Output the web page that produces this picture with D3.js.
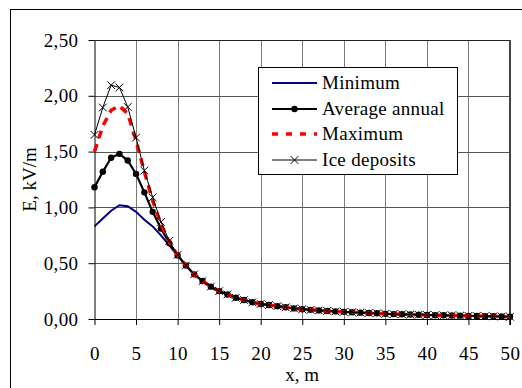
<!DOCTYPE html>
<html>
<head>
<meta charset="utf-8">
<script src="https://cdn.jsdelivr.net/npm/d3@7"></script>
<style>
  body { margin: 0; background: #fff; }
  svg { display: block; font-family: "Liberation Serif", "Times New Roman", serif; }
</style>
</head>
<body>
<svg id="chart" width="522" height="388"></svg>
<script>
// Data
const xValues = d3.range(0, 51);
const tail = [0.48, 0.40, 0.34, 0.29, 0.25, 0.22, 0.19, 0.17, 0.15, 0.135,
  0.125, 0.115, 0.105, 0.095, 0.088, 0.082, 0.077, 0.072, 0.068, 0.064,
  0.060, 0.057, 0.054, 0.051, 0.046, 0.044, 0.042, 0.040, 0.038, 0.036,
  0.034, 0.033, 0.031, 0.030, 0.028, 0.027, 0.025, 0.024, 0.022, 0.020];
const minimumHead = [0.83, 0.90, 0.97, 1.02, 1.01, 0.96, 0.89, 0.83, 0.75, 0.66, 0.57];
const averageHead = [1.18, 1.32, 1.445, 1.48, 1.42, 1.30, 1.135, 0.96, 0.81, 0.68, 0.57];
const maximumHead = [1.50, 1.73, 1.87, 1.91, 1.84, 1.60, 1.32, 1.06, 0.85, 0.69, 0.57];
const iceHead = [1.65, 1.895, 2.095, 2.075, 1.90, 1.625, 1.33, 1.09, 0.87, 0.70, 0.575];
const minimum = minimumHead.concat(tail);
const average = averageHead.concat(tail);
const maximum = maximumHead.concat(tail);
const ice = iceHead.concat(tail);
const seriesNames = ['Minimum', 'Average annual', 'Maximum', 'Ice deposits'];
const xTicks = d3.range(0, 51, 5);
const yTicks = [0, 0.5, 1, 1.5, 2, 2.5];

const svg = d3.select('#chart');
const margins = { left: 94.5, top: 40 };
const fontSize = '19px';

const x = d3.scaleLinear().domain([0, 50]).range([margins.left, 510]);
const y = d3.scaleLinear().domain([0, 2.5]).range([319, margins.top]);
const fmt = d => d3.format('.2f')(d).replace('.', ',');

// Outer frame (right and bottom sides fall outside the picture)
svg.append('rect')
  .attr('x', 10.5).attr('y', 9.5)
  .attr('width', 540).attr('height', 400)
  .attr('fill', 'none').attr('stroke', '#000').attr('stroke-width', 1);

// Grid
const grid = svg.append('g').attr('class', 'grid');
grid.selectAll('line.v')
  .data(xTicks.filter(d => d > 0 && d < 50))
  .join('line')
  .attr('x1', d => Math.round(x(d)) + 0.5).attr('x2', d => Math.round(x(d)) + 0.5)
  .attr('y1', y(0)).attr('y2', y(2.5))
  .attr('stroke', '#7a7a7a');
grid.selectAll('line.h')
  .data(yTicks.filter(d => d > 0 && d < 2.5))
  .join('line')
  .attr('y1', d => Math.round(y(d)) + 0.5).attr('y2', d => Math.round(y(d)) + 0.5)
  .attr('x1', x(0)).attr('x2', x(50))
  .attr('stroke', '#555');

// Plot border top & right
svg.append('line')
  .attr('x1', x(0)).attr('x2', x(50))
  .attr('y1', Math.round(y(2.5)) + 0.5).attr('y2', Math.round(y(2.5)) + 0.5)
  .attr('stroke', '#222');
svg.append('line')
  .attr('x1', x(50)).attr('x2', x(50))
  .attr('y1', y(2.5)).attr('y2', y(0) + 6)
  .attr('stroke', '#444').attr('stroke-width', 2);

// Axes
const yAxis = d3.axisLeft(y).tickValues(yTicks).tickFormat(fmt).tickSizeInner(6).tickSizeOuter(0).tickPadding(10);
const yAxisG = svg.append('g').attr('transform', `translate(${x(0)},0)`).call(yAxis);
const xAxis = d3.axisBottom(x).tickValues(xTicks).tickSizeInner(6).tickSizeOuter(0).tickPadding(22);
const xAxisG = svg.append('g').attr('transform', `translate(0,${y(0)})`).call(xAxis);
[yAxisG, xAxisG].forEach(g => {
  g.select('.domain').attr('stroke', '#000');
  g.selectAll('.tick line').attr('stroke', '#000');
  g.selectAll('.tick text')
    .attr('fill', '#000')
    .style('font-size', fontSize)
    .style('letter-spacing', '0.4px')
    .style('font-family', '"Liberation Serif", "Times New Roman", serif');
});

// Axis titles
svg.append('text')
  .attr('x', (x(0) + x(50)) / 2).attr('y', 381)
  .attr('text-anchor', 'middle').style('font-size', fontSize)
  .text('x, m');
svg.append('text')
  .attr('transform', `translate(36,${(y(0) + y(2.5)) / 2}) rotate(-90)`)
  .attr('text-anchor', 'middle').style('font-size', fontSize)
  .text('E, kV/m');

// Series
const line = d3.line().x((d, i) => x(xValues[i])).y(d => y(d));
const plot = svg.append('g').attr('class', 'data');

plot.append('path').datum(minimum)
  .attr('d', line).attr('fill', 'none')
  .attr('stroke', '#000080').attr('stroke-width', 2);

plot.append('path').datum(average)
  .attr('d', line).attr('fill', 'none')
  .attr('stroke', '#000').attr('stroke-width', 2.2);
plot.selectAll('circle.avg').data(average).join('circle')
  .attr('class', 'avg')
  .attr('cx', (d, i) => x(xValues[i])).attr('cy', d => y(d))
  .attr('r', 3.2).attr('fill', '#000');

plot.append('path').datum(maximum)
  .attr('d', line).attr('fill', 'none')
  .attr('stroke', '#ff0000').attr('stroke-width', 3.5)
  .attr('stroke-dasharray', '8,6');

plot.append('path').datum(ice)
  .attr('d', line).attr('fill', 'none')
  .attr('stroke', '#000').attr('stroke-width', 1);
const cross = d3.symbol().type(d3.symbolTimes).size(40);
plot.selectAll('path.ice').data(ice).join('path')
  .attr('class', 'ice')
  .attr('d', cross)
  .attr('transform', (d, i) => `translate(${x(xValues[i])},${y(d)})`)
  .attr('fill', 'none').attr('stroke', '#000').attr('stroke-width', 1);

// Legend
const legend = svg.append('g').attr('class', 'legend');
legend.append('rect')
  .attr('x', 258.5).attr('y', 67.5).attr('width', 199).attr('height', 107)
  .attr('fill', '#fff').attr('stroke', '#000');
const legendY = [83, 109, 134, 160];
const legendItems = legend.selectAll('g.item').data(seriesNames).join('g')
  .attr('class', 'item')
  .attr('transform', (d, i) => `translate(272,${legendY[i]})`);
legendItems.append('line')
  .attr('x1', 0).attr('x2', 45).attr('y1', 0).attr('y2', 0)
  .attr('stroke', (d, i) => ['#000080', '#000', '#ff0000', '#000'][i])
  .attr('stroke-width', (d, i) => [2, 2.2, 3.5, 1][i])
  .attr('stroke-dasharray', (d, i) => i === 2 ? '6,8' : null);
legendItems.filter((d, i) => i === 1).append('circle')
  .attr('cx', 22.5).attr('cy', 0).attr('r', 3.2).attr('fill', '#000');
legendItems.filter((d, i) => i === 3).append('path')
  .attr('d', cross).attr('transform', 'translate(22.5,0)')
  .attr('fill', 'none').attr('stroke', '#000');
legendItems.append('text')
  .attr('x', 50).attr('y', 0).attr('dy', '0.34em')
  .style('font-size', fontSize)
  .style('letter-spacing', '0.3px')
  .text(d => d);
</script>
</body>
</html>
